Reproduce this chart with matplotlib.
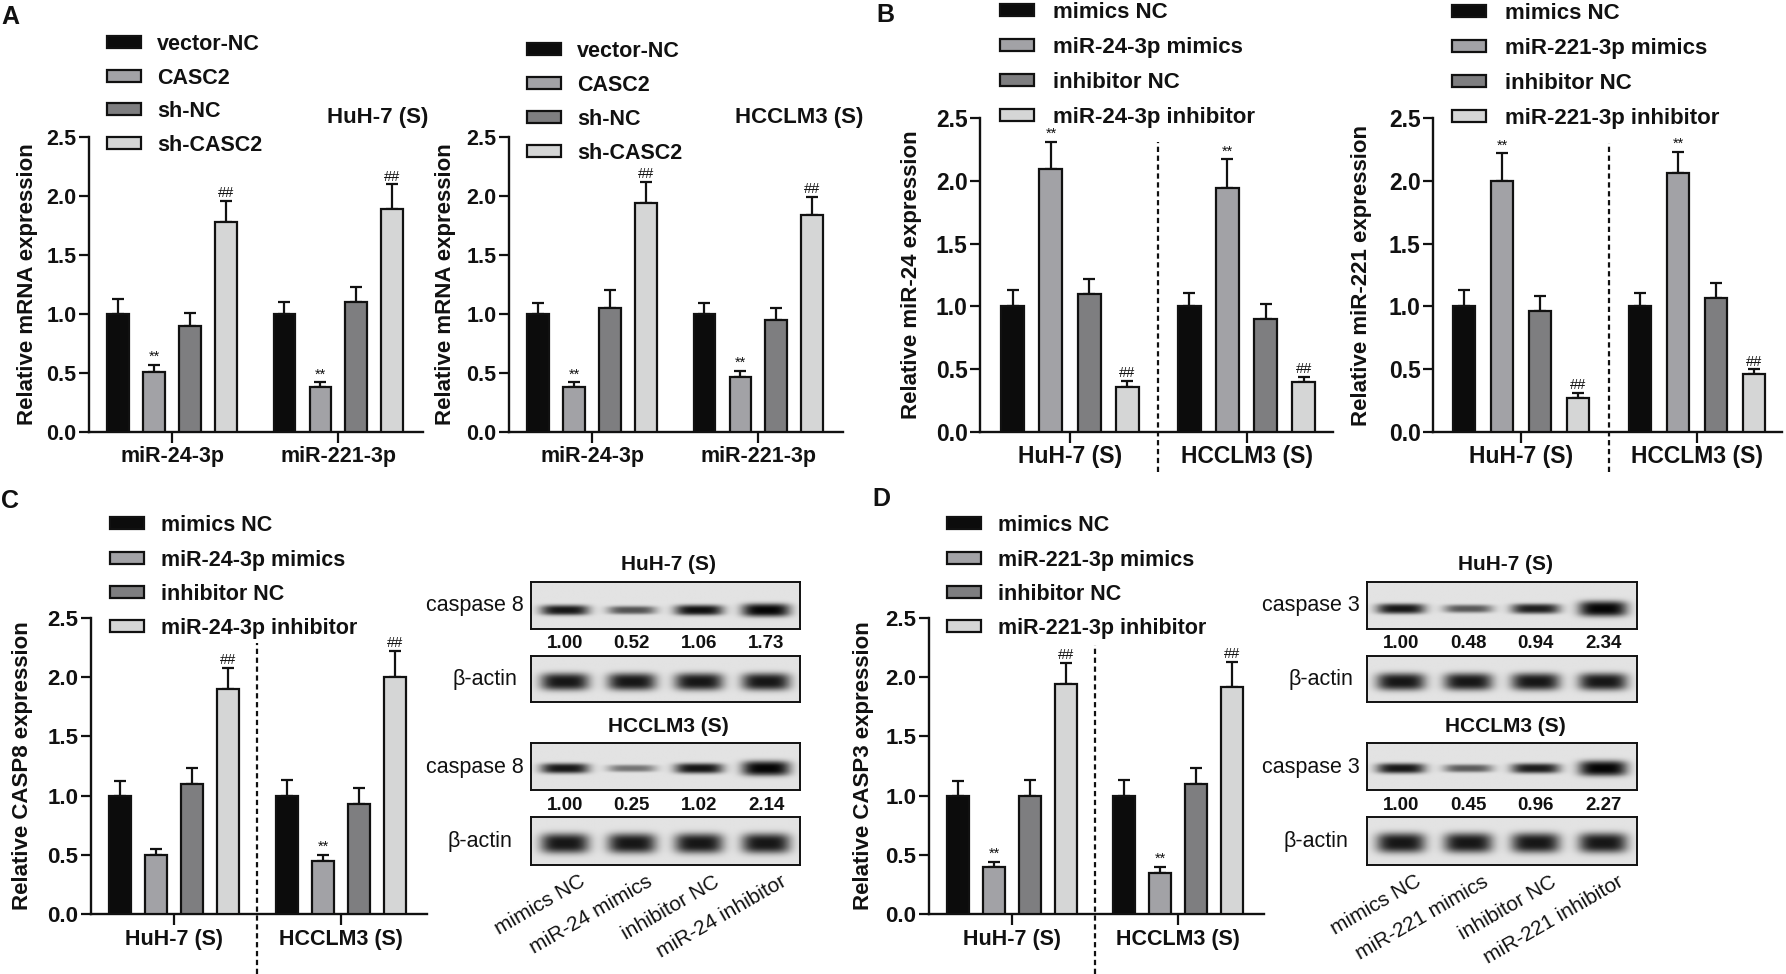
import numpy as np
import matplotlib
matplotlib.use('Agg')
import matplotlib.pyplot as plt
from matplotlib.patches import Rectangle

# ---------------- data ----------------
series_colors = ['#0c0c0c', '#a2a2a6', '#7e7e80', '#d5d6d6']

# A: CASC2 over-expression / knock-down, qPCR of the two miRNAs
a_genes = ['miR-24-3p', 'miR-221-3p']
a_legend = ['vector-NC', 'CASC2', 'sh-NC', 'sh-CASC2']
a_huh7 = [[1.00, 0.51, 0.90, 1.78], [1.00, 0.38, 1.10, 1.89]]
a_huh7_sd = [[0.13, 0.06, 0.11, 0.18], [0.10, 0.04, 0.13, 0.21]]
a_lm3 = [[1.00, 0.38, 1.05, 1.94], [1.00, 0.47, 0.95, 1.84]]
a_lm3_sd = [[0.09, 0.04, 0.15, 0.18], [0.09, 0.05, 0.10, 0.15]]
a_marks = [['', '**', '', '##'], ['', '**', '', '##']]

# B: miRNA levels after mimics / inhibitor
cells = ['HuH-7 (S)', 'HCCLM3 (S)']
legend_24 = ['mimics NC', 'miR-24-3p mimics', 'inhibitor NC', 'miR-24-3p inhibitor']
legend_221 = ['mimics NC', 'miR-221-3p mimics', 'inhibitor NC', 'miR-221-3p inhibitor']
b_mir24 = [[1.00, 2.09, 1.10, 0.36], [1.00, 1.94, 0.90, 0.40]]
b_mir24_sd = [[0.13, 0.22, 0.12, 0.05], [0.11, 0.23, 0.12, 0.04]]
b_mir221 = [[1.00, 2.00, 0.96, 0.27], [1.00, 2.06, 1.07, 0.46]]
b_mir221_sd = [[0.13, 0.22, 0.12, 0.04], [0.11, 0.17, 0.12, 0.04]]
b_marks = [['', '**', '', '##'], ['', '**', '', '##']]

# C / D: caspase mRNA
c_casp8 = [[1.00, 0.50, 1.10, 1.90], [1.00, 0.45, 0.93, 2.00]]
c_casp8_sd = [[0.12, 0.05, 0.13, 0.18], [0.13, 0.05, 0.13, 0.22]]
c_marks = [['', '', '', '##'], ['', '**', '', '##']]
d_casp3 = [[1.00, 0.40, 1.00, 1.94], [1.00, 0.35, 1.10, 1.92]]
d_casp3_sd = [[0.12, 0.04, 0.13, 0.18], [0.13, 0.05, 0.13, 0.21]]
d_marks = [['', '**', '', '##'], ['', '**', '', '##']]

# western blot lanes and quantification
c_lanes = ['mimics NC', 'miR-24 mimics', 'inhibitor NC', 'miR-24 inhibitor']
d_lanes = ['mimics NC', 'miR-221 mimics', 'inhibitor NC', 'miR-221 inhibitor']
c_band_huh7 = [1.00, 0.52, 1.06, 1.73]
c_band_lm3 = [1.00, 0.25, 1.02, 2.14]
d_band_huh7 = [1.00, 0.48, 0.94, 2.34]
d_band_lm3 = [1.00, 0.45, 0.96, 2.27]
actin_band = [1.0, 1.0, 1.0, 1.0]

# ---------------- style ----------------
W, H = 1786, 974
INK = '#111111'
plt.rcParams['font.family'] = ['Liberation Sans', 'DejaVu Sans']
plt.rcParams['font.weight'] = 'bold'
plt.rcParams['lines.scale_dashes'] = False

fig = plt.figure(figsize=(W / 100, H / 100), dpi=100)

STEP = 0.216
BAR_W = 0.13


def fx(x):
    return x / W


def fy(y):
    return 1 - y / H


def px_axes(box):
    x0, y0, x1, y1 = box
    return fig.add_axes([fx(x0), fy(y1), (x1 - x0) / W, (y1 - y0) / H])


def bar_panel(box, xlim, means, sds, marks, groups, ylabel, ylab_x,
              tick_fs=15.5, group_fs=15.5, group_pad=2, divider=None):
    ax = px_axes(box)
    means = np.array(means)
    sds = np.array(sds)
    xg = np.arange(len(groups))
    for i in range(4):
        xs = xg + (i - 1.5) * STEP
        ax.bar(xs, means[:, i], BAR_W, color=series_colors[i],
               edgecolor=INK, linewidth=1.6, zorder=3)
        ax.errorbar(xs, means[:, i], yerr=[np.zeros(len(xg)), sds[:, i]],
                    fmt='none', ecolor=INK, elinewidth=1.6, capsize=4.5,
                    capthick=1.6, zorder=2)
        for x, m, s, mk in zip(xs, means[:, i], sds[:, i], [r[i] for r in marks]):
            if mk:
                ax.annotate(mk, (x, m + s), xytext=(0, 0.5), textcoords='offset points',
                            ha='center', va='bottom', fontsize=10.5, fontweight='normal',
                            color=INK)
    ax.set_xlim(*xlim)
    ax.set_ylim(0, 2.5)
    ax.set_yticks(np.arange(0, 2.51, 0.5))
    ax.set_yticklabels([f'{v:.1f}' for v in np.arange(0, 2.51, 0.5)])
    ax.set_xticks(xg)
    ax.set_xticklabels(groups, fontsize=group_fs)
    for s in ['top', 'right']:
        ax.spines[s].set_visible(False)
    for s in ['left', 'bottom']:
        ax.spines[s].set_linewidth(1.7)
        ax.spines[s].set_color(INK)
    ax.tick_params(axis='y', length=7, width=1.6, pad=2, labelsize=tick_fs, colors=INK)
    ax.tick_params(axis='x', length=8, width=1.6, pad=group_pad, colors=INK)
    ax.set_ylabel(ylabel, fontsize=16, fontweight='bold', va='center', color=INK)
    ax.yaxis.set_label_coords((ylab_x - box[0]) / (box[2] - box[0]), 0.5)
    ax.patch.set_alpha(0)
    if divider is not None:
        ax.plot([0.5, 0.5], divider, color=INK, lw=1.6, dashes=(3.8, 2.6),
                clip_on=False, zorder=1)
    return ax


def legend_block(x_patch, x_text, rows_y, labels, fs=15.5, pw=34, ph=12):
    for i, (lab, yc) in enumerate(zip(labels, rows_y)):
        fig.add_artist(Rectangle((fx(x_patch), fy(yc + ph / 2)), pw / W, ph / H,
                                 transform=fig.transFigure, facecolor=series_colors[i],
                                 edgecolor=INK, linewidth=1.6))
        fig.text(fx(x_text), fy(yc), lab, fontsize=fs, fontweight='bold',
                 va='center_baseline', ha='left', color=INK)


def blot(box, values, band_y, thick, dark=1.0):
    ax = px_axes(box)
    ny, nx = 60, 320
    yy, xx = np.mgrid[0:1:ny * 1j, 0:1:nx * 1j]
    bg = 0.89
    img = np.full((ny, nx), bg)
    n = len(values)
    for k, v in enumerate(values):
        xc = (k + 0.5) / n
        hw = 0.36 / n
        prof_x = np.exp(-np.abs((xx - xc) / hw) ** 4)
        t = thick * (0.6 + 0.4 * min(v, 2.3))
        prof_y = np.exp(-np.abs((yy - band_y) / t) ** 3)
        amp = min(0.98, dark * (0.35 + 0.55 * v))
        img = img - bg * amp * prof_x * prof_y
    ax.imshow(np.clip(img, 0, 1), cmap='gray', vmin=0, vmax=1, aspect='auto',
              extent=(0, 1, 1, 0), interpolation='bilinear')
    ax.set_xticks([])
    ax.set_yticks([])
    for s in ax.spines.values():
        s.set_linewidth(1.4)
        s.set_color(INK)
    return ax


def blot_panel(x0, x1, protein, band_top, band_bottom, lanes, band_pos):
    rows = [(582, 629), (656, 702), (743, 790), (817, 865)]
    bands = [band_top, actin_band, band_bottom, actin_band]
    thick = [0.11, 0.19, 0.11, 0.21]
    for (y0, y1), vals, by, th in zip(rows, bands, band_pos, thick):
        blot((x0, y0, x1, y1), vals, by, th)
    lane_x = [x0 + (k + 0.5) / 4 * (x1 - x0) for k in range(4)]
    xc = (x0 + x1) / 2 + 3
    fig.text(fx(xc), fy(564), cells[0], fontsize=15, ha='center', va='center', color=INK)
    fig.text(fx(xc), fy(727), cells[1], fontsize=15, ha='center', va='center', color=INK)
    for lab, off, yc in [(protein, 7, 606), ('β-actin', 14, 679),
                         (protein, 7, 767), ('β-actin', 19, 842)]:
        fig.text(fx(x0 - off), fy(yc), lab, fontsize=15.5, fontweight='normal',
                 ha='right', va='center', color=INK)
    for vals, yv in [(band_top, 643), (band_bottom, 805)]:
        for xl, v in zip(lane_x, vals):
            fig.text(fx(xl), fy(yv), f'{v:.2f}', fontsize=13.5, ha='center',
                     va='center', color=INK)
    for xl, lab in zip(lane_x, lanes):
        fig.text(fx(xl + 14), fy(872), lab, fontsize=15, fontweight='normal',
                 rotation=30, rotation_mode='anchor', ha='right', va='top', color=INK)


# ---------------- panel A ----------------
bar_panel((89, 137, 423, 432), (-0.5, 1.51), a_huh7, a_huh7_sd, a_marks, a_genes,
          'Relative mRNA expression', 28, tick_fs=15.5, group_fs=15.5, group_pad=2)
bar_panel((509, 137, 843, 432), (-0.5, 1.51), a_lm3, a_lm3_sd, a_marks, a_genes,
          'Relative mRNA expression', 446, tick_fs=15.5, group_fs=15.5, group_pad=2)
legend_block(107, 157, [42, 76, 109, 143], a_legend)
legend_block(527, 577, [49, 83, 117, 151], a_legend)
fig.text(fx(428), fy(118), 'HuH-7 (S)', fontsize=16, ha='right', va='center', color=INK)
fig.text(fx(863), fy(118), 'HCCLM3 (S)', fontsize=16, ha='right', va='center', color=INK)

# ---------------- panel B ----------------
bar_panel((980, 118, 1333, 432), (-0.51, 1.49), b_mir24, b_mir24_sd, b_marks, cells,
          'Relative miR-24 expression', 911, tick_fs=16.5, group_fs=16.5,
          group_pad=1.5, divider=(-0.32, 2.31))
bar_panel((1433, 118, 1782, 432), (-0.5, 1.483), b_mir221, b_mir221_sd, b_marks, cells,
          'Relative miR-221 expression', 1362, tick_fs=16.5, group_fs=16.5,
          group_pad=1.5, divider=(-0.32, 2.30))
legend_block(1000, 1053, [10, 45, 80, 115], legend_24, fs=16)
legend_block(1452, 1505, [11, 46, 81, 116], legend_221, fs=16)

# ---------------- panel C / D bars ----------------
bar_panel((91, 618, 427, 914), (-0.497, 1.515), c_casp8, c_casp8_sd, c_marks, cells,
          'Relative CASP8 expression', 23, tick_fs=16, group_fs=15.5,
          group_pad=2.5, divider=(-0.51, 2.29))
bar_panel((929, 618, 1264, 914), (-0.5, 1.518), d_casp3, d_casp3_sd, d_marks, cells,
          'Relative CASP3 expression', 863, tick_fs=16, group_fs=15.5,
          group_pad=2.5, divider=(-0.51, 2.27))
legend_block(110, 161, [523, 558, 592, 626], legend_24)
legend_block(947, 998, [523, 558, 592, 626], legend_221)

# ---------------- western blots ----------------
blot_panel(531, 800, 'caspase 8', c_band_huh7, c_band_lm3, c_lanes,
           [0.60, 0.56, 0.54, 0.55])
blot_panel(1367, 1637, 'caspase 3', d_band_huh7, d_band_lm3, d_lanes,
           [0.57, 0.56, 0.54, 0.54])

# ---------------- panel letters ----------------
for letter, x, y in [('A', 1, 5), ('B', 876, 3), ('C', 1, 489), ('D', 872, 487)]:
    fig.text(fx(x), fy(y), letter, fontsize=18, ha='left', va='top', color=INK)

fig.savefig('out.png', dpi=100, facecolor='white')
